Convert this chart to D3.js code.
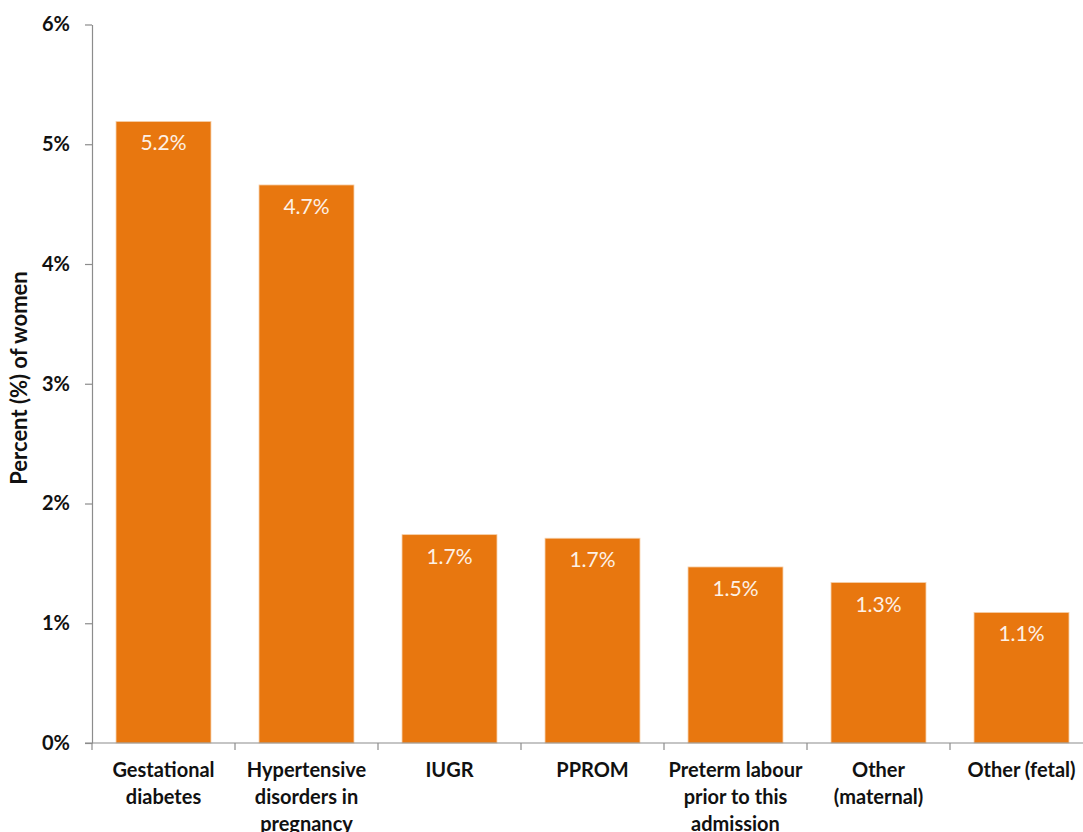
<!DOCTYPE html>
<html>
<head>
<meta charset="utf-8">
<script src="https://cdn.jsdelivr.net/npm/d3@7"></script>
<style>
  html, body { margin: 0; padding: 0; background: #ffffff; }
  svg { display: block; font-family: Lato, "Open Sans", sans-serif; }
</style>
</head>
<body>
<svg id="chart" width="1083" height="832"></svg>
<script>
// Pregnancy complications, percent of women
const categories = [
  ["Gestational", "diabetes"],
  ["Hypertensive", "disorders in", "pregnancy"],
  ["IUGR"],
  ["PPROM"],
  ["Preterm labour", "prior to this", "admission"],
  ["Other", "(maternal)"],
  ["Other (fetal)"]
];
const percentValues = [5.19, 4.66, 1.74, 1.71, 1.47, 1.34, 1.09];
const yTicks = [0, 1, 2, 3, 4, 5, 6];
const yTitle = "Percent (%) of women";

const svg = d3.select("#chart");
const axisColor = "#8c8c8c";
const barColor = "#E8770F";

// the plot area runs slightly past the right edge of the page
const x = d3.scaleBand()
  .domain(d3.range(categories.length))
  .range([92, 1093])
  .paddingInner(0.336)
  .paddingOuter(0.168);

const y = d3.scaleLinear().domain([0, 6]).range([743, 24.5]);

// y axis
const yAxis = svg.append("g")
  .attr("transform", "translate(92,0)")
  .call(d3.axisLeft(y).tickValues(yTicks).tickSize(7).tickSizeOuter(0)
    .tickFormat(d => d + "%"));
yAxis.select(".domain").attr("stroke", axisColor).attr("stroke-width", 1.2);
yAxis.selectAll(".tick line").attr("stroke", axisColor).attr("stroke-width", 1.2);
yAxis.selectAll(".tick text")
  .attr("x", -22)
  .attr("fill", "#111")
  .style("font-size", "20px")
  .style("font-weight", "bold")
  .style("font-family", "Lato, sans-serif");

// bars
svg.append("g").selectAll("rect")
  .data(percentValues)
  .join("rect")
  .attr("x", (d, i) => x(i))
  .attr("width", x.bandwidth())
  .attr("y", d => y(d))
  .attr("height", d => y(0) - y(d))
  .attr("fill", barColor)
  .attr("stroke", "#f6cfa8")
  .attr("stroke-width", 0.8);

// value labels inside bar tops
const fmt = d3.format(".1f");
svg.append("g").selectAll("text")
  .data(percentValues)
  .join("text")
  .attr("x", (d, i) => x(i) + x.bandwidth() / 2)
  .attr("y", d => y(d) + 29)
  .attr("text-anchor", "middle")
  .attr("fill", "#fdf1e6")
  .style("font-size", "21px")
  .text(d => fmt(d) + "%");

// x axis baseline and category boundary ticks
const xAxisG = svg.append("g");
xAxisG.append("line")
  .attr("x1", 85).attr("x2", 1083)
  .attr("y1", y(0)).attr("y2", y(0))
  .attr("stroke", axisColor).attr("stroke-width", 1.2);
const step = x.step();
const bandStart = x.range()[0];
const boundaries = d3.range(categories.length + 1).map(i => bandStart + i * step);
xAxisG.selectAll("line.bt")
  .data(boundaries.filter(b => b <= 1083))
  .join("line")
  .attr("class", "bt")
  .attr("x1", d => d).attr("x2", d => d)
  .attr("y1", y(0)).attr("y2", y(0) + 7)
  .attr("stroke", axisColor).attr("stroke-width", 1.2);

// category labels
const catG = svg.append("g").selectAll("text")
  .data(categories)
  .join("text")
  .attr("text-anchor", "middle")
  .attr("fill", "#111")
  .style("font-size", "20px")
  .style("font-weight", "bold");
catG.each(function(lines, i) {
  const t = d3.select(this);
  lines.forEach((ln, k) => {
    t.append("tspan")
      .attr("x", x(i) + x.bandwidth() / 2)
      .attr("y", 777 + k * 27)
      .text(ln);
  });
});

// y axis title
svg.append("text")
  .attr("transform", "translate(27,378) rotate(-90)")
  .attr("text-anchor", "middle")
  .attr("fill", "#111")
  .style("font-size", "22px")
  .style("font-weight", "bold")
  .text(yTitle);
</script>
</body>
</html>
